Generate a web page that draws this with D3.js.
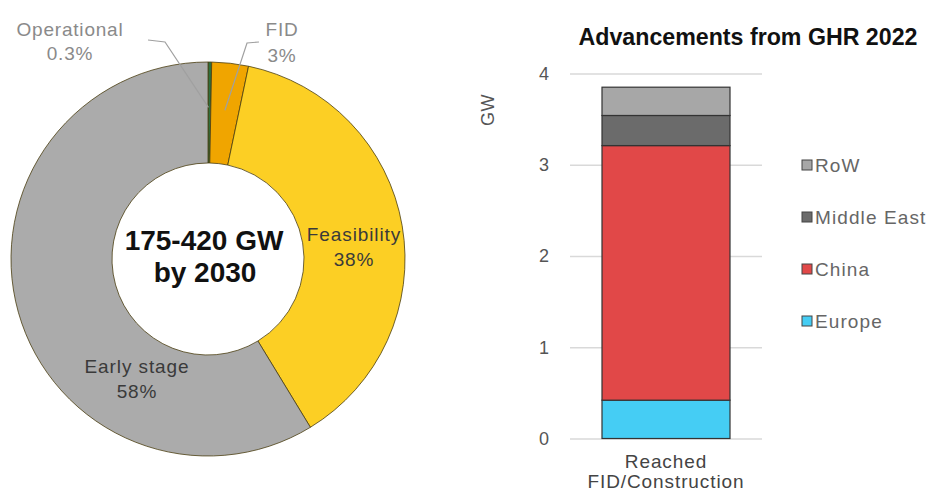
<!DOCTYPE html>
<html><head><meta charset="utf-8">
<script src="https://cdn.jsdelivr.net/npm/d3@7"></script>
<style>body{margin:0;background:#fff}svg{display:block;font-family:"Liberation Sans",Arial,sans-serif}</style>
</head><body><svg id="c" width="930" height="494"></svg>
<script>
// Donut data
const stages = ["Operational", "FID", "Feasibility", "Early stage"];
const stageShares = [0.3, 3.0, 38.0, 58.7];
const stageLabels = ["0.3%", "3%", "38%", "58%"];
const stageColors = ["#2f6f3e", "#f0a500", "#fccf24", "#ababab"];
// Bar data
const barCategory = ["Reached FID/Construction"];
const regions = ["Europe", "China", "Middle East", "RoW"];
const regionValues = [0.42, 2.79, 0.33, 0.31];
const regionColors = ["#45cdf4", "#e14848", "#6b6b6b", "#a7a7a7"];
const yTicks = [0, 1, 2, 3, 4];

const svg = d3.select("#c");

// ---------- Donut ----------
const cx = 208, cy = 259, R = 197, r = 96;
const g = svg.append("g").attr("transform", `translate(${cx},${cy})`);
const pie = d3.pie().sort(null).value(d => d)(stageShares);
const arc = d3.arc().innerRadius(r).outerRadius(R);
g.selectAll("path").data(pie).join("path")
  .attr("d", arc).attr("fill", (d, i) => stageColors[i])
  .attr("stroke", "#4a3d10").attr("stroke-width", 0.8);

// center text
g.append("text").attr("text-anchor", "middle").attr("x", -4).attr("y", -9)
  .attr("font-size", 28).attr("font-weight", "bold").attr("fill", "#111").text("175-420 GW");
g.append("text").attr("text-anchor", "middle").attr("x", -3).attr("y", 23)
  .attr("font-size", 28).attr("font-weight", "bold").attr("fill", "#111").text("by 2030");

function twoLine(parent, x, y1, y2, a, b, color, size, ls) {
  const t = parent.append("text").attr("text-anchor", "middle").attr("font-size", size)
    .attr("letter-spacing", ls).attr("fill", color);
  t.append("tspan").attr("x", x).attr("y", y1).text(a);
  t.append("tspan").attr("x", x).attr("y", y2).text(b);
}
// inside labels (absolute coords)
twoLine(svg, 354, 241, 266, stages[2], stageLabels[2], "#3a3a3a", 19, 0.9);
twoLine(svg, 137, 373, 398, stages[3], stageLabels[3], "#3a3a3a", 19, 0.9);

// outside labels with leader lines
const opEnd = d3.arc().innerRadius(R * 0.77).outerRadius(R * 0.77).centroid(pie[0]);
const fidEnd = d3.arc().innerRadius(R * 0.76).outerRadius(R * 0.76).centroid(pie[1]);
g.append("polyline").attr("fill", "none").attr("stroke", "#a0a0a0").attr("stroke-width", 1.2)
  .attr("points", [[opEnd[0] - 1, opEnd[1]], [165 - cx, 42 - cy], [148 - cx, 40 - cy]].map(p => p.join(",")).join(" "));
g.append("polyline").attr("fill", "none").attr("stroke", "#a0a0a0").attr("stroke-width", 1.2)
  .attr("points", [[fidEnd[0], fidEnd[1]], [247 - cx, 43 - cy], [259 - cx, 42 - cy]].map(p => p.join(",")).join(" "));
twoLine(svg, 70, 36, 60, stages[0], stageLabels[0], "#8a8a8a", 19, 0.8);
twoLine(svg, 282, 36, 62, stages[1], stageLabels[1], "#8a8a8a", 19, 0.8);

// ---------- Bar chart ----------
const x = d3.scaleBand().domain(barCategory).range([570, 762]).paddingInner(0).paddingOuter(0.25);
const y = d3.scaleLinear().domain([0, 4]).range([438.5, 73.5]);

svg.append("text").attr("x", 748).attr("y", 45).attr("text-anchor", "middle")
  .attr("font-size", 23.2).attr("font-weight", "bold").attr("fill", "#111").text("Advancements from GHR 2022");

const yAxis = svg.append("g").attr("transform", "translate(570,0)")
  .call(d3.axisLeft(y).tickValues(yTicks).tickSize(-192).tickPadding(21).tickFormat(d3.format("d")));
yAxis.select(".domain").remove();
yAxis.selectAll(".tick line").attr("stroke", "#d9d9d9").attr("stroke-width", 1.3);
yAxis.selectAll(".tick text").attr("font-size", 18).attr("fill", "#555")
  .attr("font-family", "Liberation Sans, Arial, sans-serif");

svg.append("text").attr("transform", "translate(494,110) rotate(-90)").attr("text-anchor", "middle")
  .attr("font-size", 18).attr("letter-spacing", 0.6).attr("fill", "#555").text("GW");

const stack = [];
let acc = 0;
regionValues.forEach((v, i) => { stack.push({ y0: acc, y1: acc + v, i }); acc += v; });
svg.append("g").selectAll("rect").data(stack).join("rect")
  .attr("x", x(barCategory[0])).attr("width", x.bandwidth())
  .attr("y", d => y(d.y1)).attr("height", d => y(d.y0) - y(d.y1))
  .attr("fill", d => regionColors[d.i]).attr("stroke", "#333").attr("stroke-width", 1.2);

twoLine(svg, x(barCategory[0]) + x.bandwidth() / 2, 468, 488, "Reached", "FID/Construction", "#444", 19, 0.9);

// legend
const legendOrder = [3, 2, 1, 0];
const lg = svg.append("g").selectAll("g").data(legendOrder).join("g")
  .attr("transform", (d, k) => `translate(802,${165 + k * 52})`);
lg.append("rect").attr("x", 0).attr("y", -5).attr("width", 10).attr("height", 10)
  .attr("fill", d => regionColors[d]).attr("stroke", "#444").attr("stroke-width", 1);
lg.append("text").attr("x", 13).attr("y", 7).attr("font-size", 19).attr("letter-spacing", 1.1)
  .attr("fill", "#666").text(d => regions[d]);
</script></body></html>
